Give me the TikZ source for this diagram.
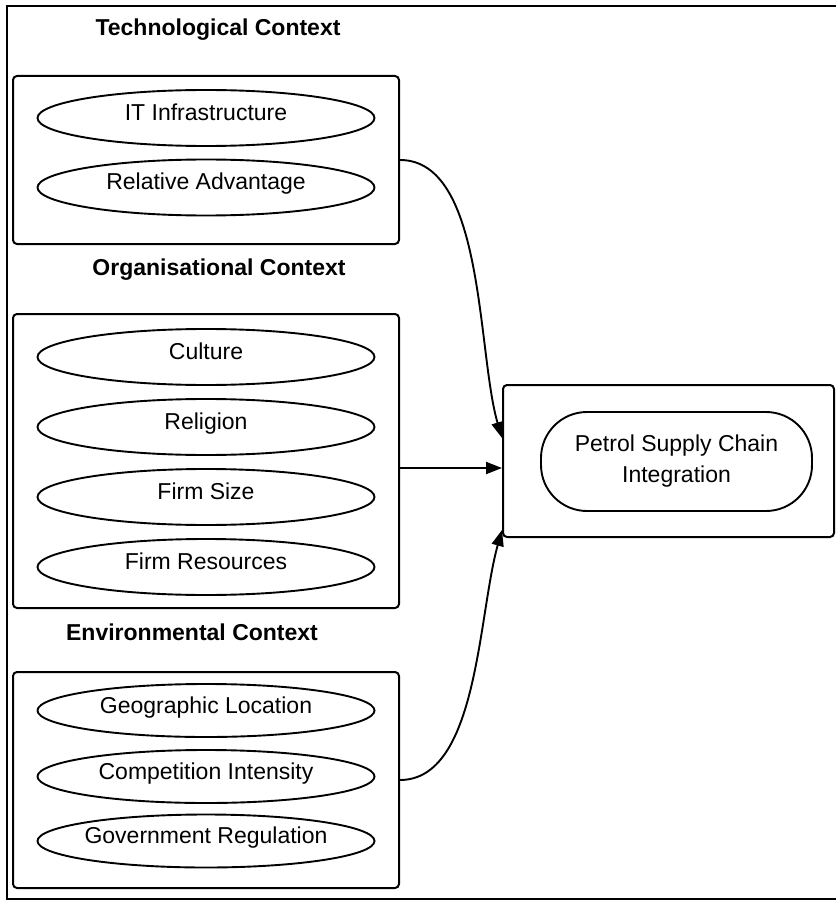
\documentclass[tikz,border=0pt]{standalone}
\usepackage{fontspec}
\setmainfont{Liberation Sans}
\usetikzlibrary{shapes.geometric,arrows.meta}

\tikzset{
  factor/.style={ellipse, draw, line width=1.9pt, minimum width=337pt,
    minimum height=56pt, inner xsep=-40pt, inner ysep=0pt,
    text height=0.72em, text depth=0.22em,
    font=\fontsize{23}{27}\selectfont},
  group/.style={rectangle, draw, line width=2pt, rounded corners=4pt, inner sep=0pt},
  heading/.style={font=\fontsize{23}{27}\selectfont\bfseries},
  link/.style={line width=1.9pt, -{Triangle[length=16pt,width=12pt]}}
}

\begin{document}
\begin{tikzpicture}[x=1pt,y=-1pt]
\useasboundingbox (0,0) rectangle (835,901);

% outer frame (its right side runs past the page edge)
\draw[line width=2.6pt] (7,6) rectangle (870,899);

% headings
\node[heading] (thead) at (218,30) {Technological Context};
\node[heading] (ohead) at (219,270) {Organisational Context};
\node[heading] (ehead) at (192,632) {Environmental Context};

% context groups
\node[group, minimum width=386pt, minimum height=168pt] (tech) at (206,160) {};
\node[group, minimum width=386pt, minimum height=294pt] (org) at (206,461) {};
\node[group, minimum width=386pt, minimum height=216pt] (env) at (206,780) {};

% technological factors
\node[factor] (it) at (206,118) {IT Infrastructure};
\node[factor] (ra) at (206,187.5) {Relative Advantage};

% organisational factors
\node[factor] (cul) at (206,357) {Culture};
\node[factor] (rel) at (206,427) {Religion};
\node[factor] (fs) at (206,497) {Firm Size};
\node[factor] (fr) at (206,567) {Firm Resources};

% environmental factors
\node[factor, minimum height=53pt] (geo) at (206,710.5) {Geographic Location};
\node[factor, minimum height=53pt] (comp) at (206,776.5) {Competition Intensity};
\node[factor, minimum height=53pt] (gov) at (206,841) {Government Regulation};

% outcome
\node[group, minimum width=331pt, minimum height=152pt] (psc) at (668.5,461) {};
\node[rectangle, draw, line width=1.9pt, rounded corners=46pt,
  minimum width=271pt, minimum height=99pt, align=center,
  font=\fontsize{23}{31}\selectfont] (psci) at (676.5,461.5)
  {Petrol Supply Chain\\Integration};

% influences
\draw[link] (tech.east) .. controls +(85,0) and +(-25,-85) .. ([yshift=23pt]psc.west);
\draw[link] ([yshift=-7pt]org.east) -- ([yshift=-7pt]psc.west);
\draw[link] (env.east) .. controls +(78,0) and +(-24,85) .. ([yshift=-69pt]psc.west);
\end{tikzpicture}
\end{document}
